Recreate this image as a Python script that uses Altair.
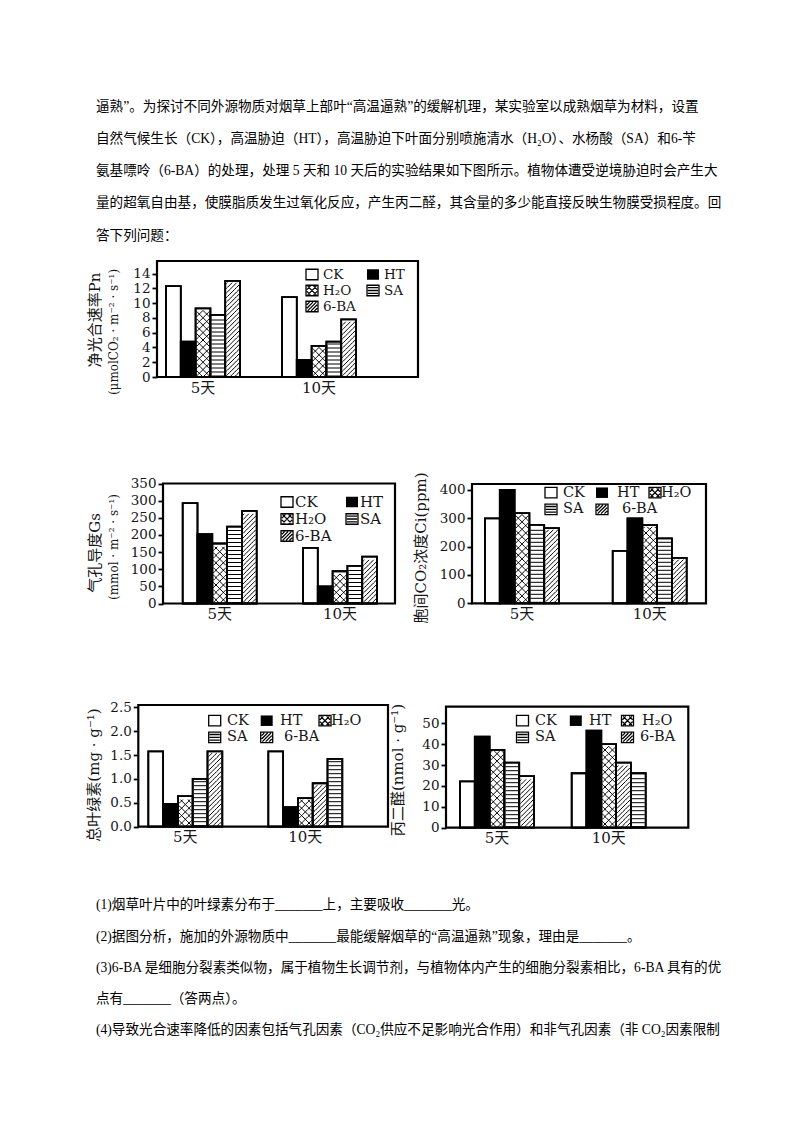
import math
import altair as alt
import pandas as pd

PAGE_W, PAGE_H, MARGIN = 800, 1132, 8
W, H = PAGE_W - 2 * MARGIN, PAGE_H - 2 * MARGIN

SERIF = "Liberation Serif, Noto Sans CJK SC, serif"
CHART_FONT = "DejaVu Serif, Noto Sans CJK SC, serif"
INK = "#161616"

# ---------------- text ----------------
TOP_LINES = [
    "逼熟”。为探讨不同外源物质对烟草上部叶“高温逼熟”的缓解机理，某实验室以成熟烟草为材料，设置",
    "自然气候生长（CK），高温胁迫（HT），高温胁迫下叶面分别喷施清水（H₂O）、水杨酸（SA）和6-苄",
    "氨基嘌呤（6-BA）的处理，处理 5 天和 10 天后的实验结果如下图所示。植物体遭受逆境胁迫时会产生大",
    "量的超氧自由基，使膜脂质发生过氧化反应，产生丙二醛，其含量的多少能直接反映生物膜受损程度。回",
    "答下列问题：",
]
TOP_LINE_Y = [107, 139, 171, 203, 236]
BOTTOM_LINES = [
    "(1)烟草叶片中的叶绿素分布于_______上，主要吸收_______光。",
    "(2)据图分析，施加的外源物质中_______最能缓解烟草的“高温逼熟”现象，理由是_______。",
    "(3)6-BA 是细胞分裂素类似物，属于植物生长调节剂，与植物体内产生的细胞分裂素相比，6-BA 具有的优",
    "点有_______（答两点）。",
    "(4)导致光合速率降低的因素包括气孔因素（CO₂供应不足影响光合作用）和非气孔因素（非 CO₂因素限制",
]
BOTTOM_LINE_Y = [905, 937, 968, 999, 1030]
TEXT_X = 96

# ---------------- data ----------------
DAYS = ["5天", "10天"]
SLOTS = ["CK", "HT", "H2O", "SA", "6-BA"]
LEGEND_TEXT = ["CK", "HT", "H₂O", "SA", "6-BA"]

pn_5d = [12.3, 4.8, 9.3, 8.4, 13.0]
pn_10d = [10.8, 2.3, 4.2, 4.8, 7.8]
gs_5d = [293, 202, 175, 224, 270]
gs_10d = [162, 50, 94, 110, 137]
ci_5d = [300, 400, 318, 277, 265]
ci_10d = [185, 300, 276, 229, 160]
chl_5d = [1.58, 0.48, 0.64, 1.00, 1.58]
chl_10d = [1.58, 0.41, 0.60, 0.91, 1.42]
mda_5d = [22.2, 43.6, 37.3, 31.2, 24.7]
mda_10d = [26.1, 46.5, 40.1, 31.2, 26.1]

PAT_STD = ["blank", "solid", "cross", "hline", "diag"]
PAT_SWAP = ["blank", "solid", "cross", "diag", "hline"]

# ---------------- layout ----------------
GROUP_W = 74.0
BAR_W = GROUP_W / 5
SW_W, SW_H = 12.0, 10.5  # legend swatch

PANELS = [
    dict(values=[pn_5d, pn_10d], patterns=[PAT_STD, PAT_STD],
         frame=(157, 418, 261, 377), groups=(166, 282), ymax=15.7,
         ticks=[0, 2, 4, 6, 8, 10, 12, 14], fmt="d",
         titles=[("净光合速率Pn", 95, 320, 15), ("(μmolCO₂ · m⁻² · s⁻¹)", 114, 332, 12)],
         legend=dict(rows=[274.5, 290.5, 306.5], sx=[312, 373], tx=[323, 384], fs=13.5,
                     cells=[(0, 0), (1, 0), (0, 1), (1, 1), (0, 2)], tx_override={})),
    dict(values=[gs_5d, gs_10d], patterns=[PAT_STD, PAT_STD],
         frame=(163, 395, 483.5, 603.5), groups=(182.7, 303), ymax=350,
         ticks=[0, 50, 100, 150, 200, 250, 300, 350], fmt="d",
         titles=[("气孔导度Gs", 95, 553, 15), ("(mmol · m⁻² · s⁻¹)", 114, 547, 12)],
         legend=dict(rows=[502, 519, 536], sx=[287, 352], tx=[295, 360], fs=15,
                     cells=[(0, 0), (1, 0), (0, 1), (1, 1), (0, 2)], tx_override={})),
    dict(values=[ci_5d, ci_10d], patterns=[PAT_STD, PAT_STD],
         frame=(472, 706, 484, 603.3), groups=(485, 612.7), ymax=421,
         ticks=[0, 100, 200, 300, 400], fmt="d",
         titles=[("胞间CO₂浓度Ci(ppm)", 421, 548, 15)],
         legend=dict(rows=[492.7, 509.3], sx=[551, 602, 655], tx=[563, 617, 661], fs=14.5,
                     cells=[(0, 0), (1, 0), (2, 0), (0, 1), (1, 1)], tx_override={4: 622})),
    dict(values=[chl_5d, chl_10d], patterns=[PAT_STD, PAT_SWAP],
         frame=(138.3, 388, 705, 826.7), groups=(148.3, 268.3), ymax=2.55,
         ticks=[0, 0.5, 1.0, 1.5, 2.0, 2.5], fmt=".1f",
         titles=[("总叶绿素(mg · g⁻¹)", 94, 775, 15)],
         legend=dict(rows=[720.7, 737.3], sx=[214.7, 266.7, 325], tx=[227, 280, 331], fs=14.5,
                     cells=[(0, 0), (1, 0), (2, 0), (0, 1), (1, 1)], tx_override={4: 284})),
    dict(values=[mda_5d, mda_10d], patterns=[PAT_STD, PAT_SWAP],
         frame=(446, 688.3, 706.7, 827.7), groups=(460, 571.7), ymax=58,
         ticks=[0, 10, 20, 30, 40, 50], fmt="d",
         titles=[("丙二醛(nmol · g⁻¹)", 398, 770, 15)],
         legend=dict(rows=[720.7, 737.3], sx=[522.5, 575.8, 627.5], tx=[535, 589, 642], fs=14.5,
                     cells=[(0, 0), (1, 0), (2, 0), (0, 1), (2, 1)], tx_override={4: 640})),
]

# ---------------- hatch glyphs ----------------
HATCH = {
    "diag": dict(P=4.6, m=2, fams=["s"]),
    "cross": dict(P=BAR_W / 2, m=3, fams=["s", "b"]),
    "hline": dict(P=4.0, m=2, fams=["h"]),
}


def hatch_segments(kind, hw, ht, shift, P):
    segs = []
    if kind == "h":
        k0 = math.floor((-ht - shift) / P) - 1
        k1 = math.ceil((ht - shift) / P) + 1
        for k in range(k0, k1 + 1):
            y = shift + k * P
            if -ht - 1e-9 <= y <= ht + 1e-9:
                segs.append(((-hw, y), (hw, y)))
        return segs
    lo, hi = -hw - ht, hw + ht
    k0 = math.floor((lo - shift) / P) - 1
    k1 = math.ceil((hi - shift) / P) + 1
    for k in range(k0, k1 + 1):
        e = shift + k * P
        if kind == "s":  # x - y = e  ('/')
            ylo, yhi = max(-ht, -hw - e), min(ht, hw - e)
            if yhi - ylo > 1e-6:
                segs.append(((e + ylo, ylo), (e + yhi, yhi)))
        else:  # x + y = e  ('\')
            ylo, yhi = max(-ht, e - hw), min(ht, e + hw)
            if yhi - ylo > 1e-6:
                segs.append(((e - ylo, ylo), (e - yhi, yhi)))
    return segs


def to_path(segs, u):
    return "".join(
        f"M{x1 / u:.3f},{-y1 / u:.3f}L{x2 / u:.3f},{-y2 / u:.3f}" for (x1, y1), (x2, y2) in segs
    )


def tile_path(pat, phase, w):
    spec = HATCH[pat]
    P, m = spec["P"], spec["m"]
    t = P / m
    yc = (phase + 0.5) * t
    hw, ht = w / 2 - 1.0, t / 2
    segs = []
    for fam in spec["fams"]:
        if fam == "h":
            shift = P * 0.25 - yc
        elif fam == "s":
            shift = yc - w / 2
        else:
            shift = -w / 2 - yc
        segs += hatch_segments(fam, hw, ht, shift, P)
    return to_path(segs, w / 2)


TILE_KEYS, TILE_PATHS = [], []
for pat, spec in HATCH.items():
    for ph in range(spec["m"]):
        TILE_KEYS.append(f"{pat}{ph}")
        TILE_PATHS.append(tile_path(pat, ph, BAR_W) or "M0,0")


def rect_path(w, h):
    u = w / 2
    a, b = 1.0, (h / 2) / u
    return f"M{-a},{-b:.3f}L{a},{-b:.3f}L{a},{b:.3f}L{-a},{b:.3f}Z"


def swatch_path(pat, w, h):
    hw, ht = w / 2 - 0.9, h / 2 - 0.9
    if pat == "cross":
        segs = hatch_segments("s", hw, ht, 0, w / 2) + hatch_segments("b", hw, ht, 0, w / 2)
    elif pat == "diag":
        segs = hatch_segments("s", hw, ht, 0, 3.4)
    elif pat == "hline":
        segs = hatch_segments("h", hw, ht, 0, 2.8)
    else:
        segs = []
    return rect_path(w, h) + to_path(segs, w / 2)


SW_KEYS = ["blank", "cross", "hline", "diag"]
SW_PATHS = [swatch_path(k, SW_W, SW_H) for k in SW_KEYS]

FILL_KEYS = ["blank", "solid", "cross", "hline", "diag"]
FILL_VALUES = ["white", "black", "white", "white", "white"]


def band_params(L, R, g1, g2):
    S = g2 - g1
    pi = 1 - GROUP_W / S
    span = R - L
    po = max((span / S - 2 + pi) / 2, 0)
    extra = span - S * (2 - pi)
    al = (g1 - L) / extra if extra > 1e-6 else 0.5
    return pi, po, min(max(al, 0), 1)


def make_panel(p):
    L, R, T, B = [v - MARGIN for v in p["frame"]]
    g1, g2 = [v - MARGIN for v in p["groups"]]
    rows = []
    for day, vals, pats in zip(DAYS, p["values"], p["patterns"]):
        for slot, v, pat in zip(SLOTS, vals, pats):
            rows.append({"day": day, "treat": slot, "value": v, "pattern": pat})
    bars = pd.DataFrame(rows)

    ppu = (B - T) / p["ymax"]
    trows = []
    for r in bars.itertuples():
        if r.pattern not in HATCH:
            continue
        spec = HATCH[r.pattern]
        t = spec["P"] / spec["m"]
        n = int((r.value * ppu - 1.0) // t)
        for j in range(n):
            trows.append({"day": r.day, "treat": r.treat,
                          "value": (j + 0.5) * t / ppu, "key": f"{r.pattern}{j % spec['m']}"})
    tiles = pd.DataFrame(trows)

    pi, po, al = band_params(L, R, g1, g2)
    xs = alt.Scale(domain=DAYS, range=[L, R], paddingInner=pi, paddingOuter=po, align=al)
    xos = alt.Scale(domain=SLOTS, paddingInner=0, paddingOuter=0)
    ys = alt.Scale(domain=[0, p["ymax"]], range=[B, T], nice=False, zero=False)
    xaxis = alt.Axis(orient="bottom", offset=B - H, ticks=False, domain=False, grid=False,
                     labelAngle=0, labelFont=CHART_FONT, labelFontSize=15, labelColor=INK,
                     labelPadding=3, title=None)
    yaxis = alt.Axis(orient="left", offset=-L, values=p["ticks"], format=p["fmt"],
                     tickSize=5, tickWidth=1.8, tickColor="black", domain=False, grid=False,
                     labelFont=CHART_FONT, labelFontSize=13.5, labelColor=INK, labelPadding=2,
                     title=None)

    def enc():
        return dict(x=alt.X("day:N", scale=xs, axis=xaxis),
                    xOffset=alt.XOffset("treat:N", scale=xos),
                    y=alt.Y("value:Q", scale=ys, axis=yaxis))

    base = alt.Chart(bars).mark_bar(stroke="black", strokeWidth=1.8).encode(
        **enc(),
        fill=alt.Fill("pattern:N", scale=alt.Scale(domain=FILL_KEYS, range=FILL_VALUES), legend=None),
    )
    hatch = alt.Chart(tiles).mark_point(filled=False, color="black", strokeWidth=1.0,
                                        opacity=1, size=BAR_W ** 2).encode(
        **enc(),
        shape=alt.Shape("key:N", scale=alt.Scale(domain=TILE_KEYS, range=TILE_PATHS), legend=None),
    )
    outline = alt.Chart(bars).mark_bar(fillOpacity=0, stroke="black", strokeWidth=1.8).encode(**enc())
    frame = alt.Chart(pd.DataFrame({"f": [0]})).mark_rect(
        fillOpacity=0, stroke="black", strokeWidth=2.2
    ).encode(x=alt.value(L), x2=alt.value(R), y=alt.value(T), y2=alt.value(B))
    panel = alt.layer(base, hatch, outline, frame)

    # legend
    lg = p["legend"]
    lrows = []
    for i, (slot, lab) in enumerate(zip(SLOTS, LEGEND_TEXT)):
        c, r = lg["cells"][i]
        lrows.append({"label": lab, "key": PAT_STD[i],
                      "sx": lg["sx"][c] - MARGIN, "sy": lg["rows"][r] - MARGIN,
                      "tx": lg["tx_override"].get(i, lg["tx"][c]) - MARGIN})
    ldf = pd.DataFrame(lrows)
    sw = alt.Chart(ldf[ldf.key != "solid"]).mark_point(
        filled=False, color="black", strokeWidth=1.3, opacity=1, size=SW_W ** 2
    ).encode(x=alt.X("sx:Q", scale=None, axis=None), y=alt.Y("sy:Q", scale=None, axis=None),
             shape=alt.Shape("key:N", scale=alt.Scale(domain=SW_KEYS, range=SW_PATHS), legend=None))
    sw_solid = alt.Chart(ldf[ldf.key == "solid"]).mark_point(
        filled=True, color="black", opacity=1, size=SW_W ** 2, shape=rect_path(SW_W, SW_H)
    ).encode(x=alt.X("sx:Q", scale=None, axis=None), y=alt.Y("sy:Q", scale=None, axis=None))
    ltext = alt.Chart(ldf).mark_text(align="left", baseline="middle", font=CHART_FONT,
                                      fontSize=lg["fs"], color=INK).encode(
        x=alt.X("tx:Q", scale=None, axis=None), y=alt.Y("sy:Q", scale=None, axis=None), text="label:N")

    tdf = pd.DataFrame([{"t": t, "x": x - MARGIN, "y": y - MARGIN, "fs": fs}
                        for t, x, y, fs in p["titles"]])
    titles = alt.Chart(tdf).mark_text(angle=270, align="center", baseline="middle",
                                      font=CHART_FONT, color=INK).encode(
        x=alt.X("x:Q", scale=None, axis=None), y=alt.Y("y:Q", scale=None, axis=None),
        text="t:N", size=alt.Size("fs:Q", scale=None, legend=None))
    return [panel, sw, sw_solid, ltext, titles]


def text_block(lines, ys):
    df = pd.DataFrame({"t": lines, "y": [y - MARGIN for y in ys]})
    return alt.Chart(df).mark_text(align="left", baseline="middle", font=SERIF,
                                   fontSize=13.6, color="black").encode(
        x=alt.value(TEXT_X - MARGIN), y=alt.Y("y:Q", scale=None, axis=None), text="t:N")


layers = [text_block(TOP_LINES, TOP_LINE_Y), text_block(BOTTOM_LINES, BOTTOM_LINE_Y)]
for p in PANELS:
    layers += make_panel(p)

chart = alt.layer(*layers).resolve_scale(
    x="independent", y="independent", xOffset="independent",
    shape="independent", fill="independent", size="independent",
).properties(
    width=W, height=H, autosize=alt.AutoSizeParams(type="none"), padding=0,
).configure_view(stroke=None)

chart.save("out.html", embed_options={"renderer": "svg", "actions": False})
